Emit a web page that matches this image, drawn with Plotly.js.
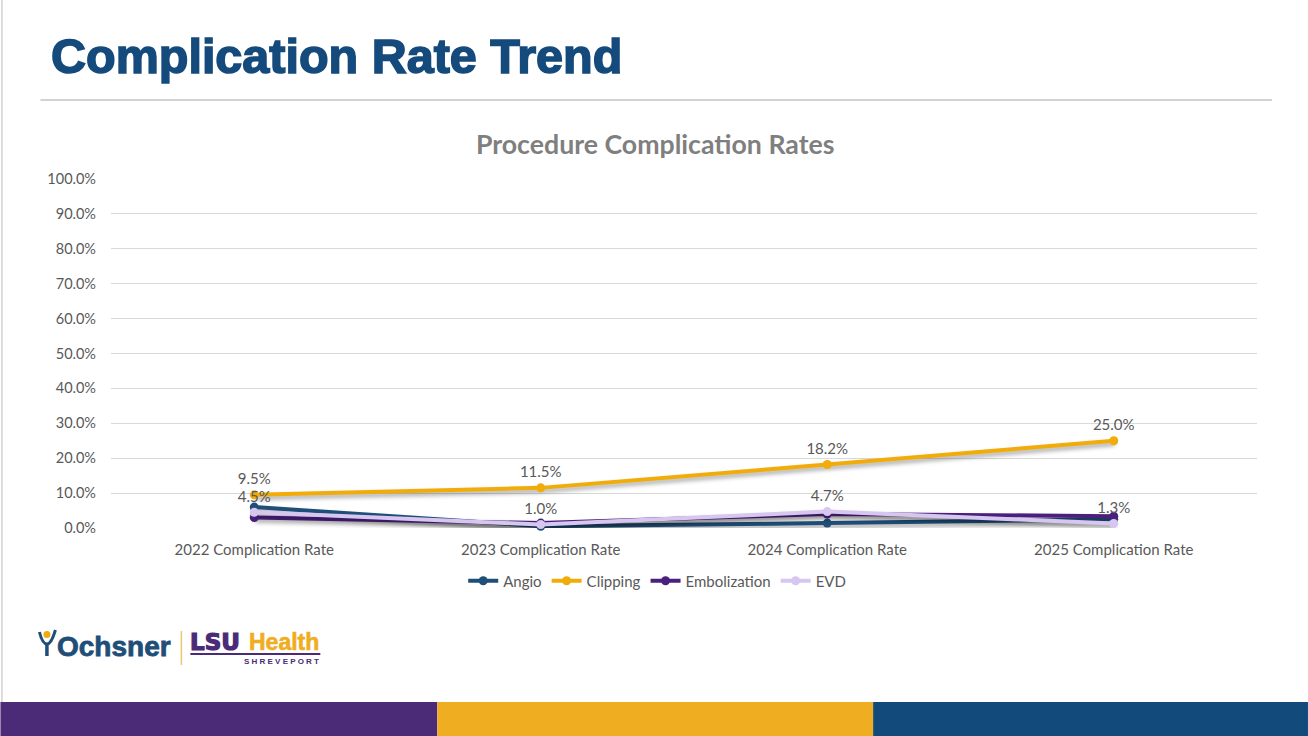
<!DOCTYPE html>
<html>
<head>
<meta charset="utf-8">
<script src="https://cdn.plot.ly/plotly-3.0.1.min.js"></script>
<style>
  html, body { margin: 0; padding: 0; background: #ffffff; }
  #chart { width: 1308px; height: 736px; }
  .scatterlayer .trace path.js-line { filter: drop-shadow(1px 3px 2px rgba(0,0,0,0.35)); }
  .annotation[data-index="0"] text { stroke: #154A7C; stroke-width: 1.6px; }
  .annotation[data-index="1"] text { stroke: #1F4E79; stroke-width: 0.8px; }
  .annotation[data-index="2"] text { stroke: #4B2A77; stroke-width: 1.2px; }
  .annotation[data-index="3"] text { stroke: #EFAE22; stroke-width: 0.6px; }
</style>
</head>
<body>
<div id="chart"></div>
<script>
// ---- data ----
const categories = ["2022 Complication Rate", "2023 Complication Rate", "2024 Complication Rate", "2025 Complication Rate"];
const seriesNames = ["Angio", "Clipping", "Embolization", "EVD"];
const angio = [6.0, 0.5, 1.4, 2.5];
const clipping = [9.5, 11.5, 18.2, 25.0];
const embolization = [3.0, 1.4, 4.0, 3.4];
const evd = [4.5, 1.0, 4.7, 1.3];
const yTicks = [0, 10, 20, 30, 40, 50, 60, 70, 80, 90, 100];

const colors = {
  Angio: "#1F4E79",
  Clipping: "#F2AC0A",
  Embolization: "#4A1F7E",
  EVD: "#D7C6EF"
};

// ---- layout geometry (pixels) ----
const W = 1308, H = 736;
const plotL = 110.6, plotR = 1257, plotT = 179, plotB = 528;
const pw = plotR - plotL, ph = plotB - plotT;
const px = x => (x - plotL) / pw;
const py = y => (plotB - y) / ph;

const FONT = "Lato, Carlito, sans-serif";

function series(name, vals, labelled) {
  return {
    type: "scatter",
    mode: labelled ? "lines+markers+text" : "lines+markers",
    name: name,
    x: categories,
    y: vals,
    text: labelled ? vals.map(v => v.toFixed(1) + "%") : undefined,
    textposition: "top center",
    textfont: { family: FONT, size: 15, color: "#595959" },
    line: { color: colors[name], width: 4 },
    marker: { color: colors[name], size: 9 },
    cliponaxis: false,
    hoverinfo: "x+y+name"
  };
}

const traces = [
  series("Angio", angio, false),
  series("Clipping", clipping, true),
  series("Embolization", embolization, false),
  series("EVD", evd, true)
];

const shapes = [
  // heading rule
  { type: "line", xref: "paper", yref: "paper", x0: px(40), x1: px(1272), y0: py(100), y1: py(100),
    line: { color: "#a6a6a6", width: 1 } },
  // left border
  { type: "line", xref: "paper", yref: "paper", x0: px(1.5), x1: px(1.5), y0: py(0), y1: py(702),
    line: { color: "#d0d0d0", width: 1.5 } },
  // bottom colour bars
  { type: "rect", xref: "paper", yref: "paper", x0: px(0), x1: px(437), y0: py(702), y1: py(736),
    fillcolor: "#4B2A77", line: { width: 0 } },
  { type: "rect", xref: "paper", yref: "paper", x0: px(437), x1: px(873), y0: py(702), y1: py(736),
    fillcolor: "#EFAE22", line: { width: 0 } },
  { type: "rect", xref: "paper", yref: "paper", x0: px(873), x1: px(1308), y0: py(702), y1: py(736),
    fillcolor: "#134A7C", line: { width: 0 } },
  // logo divider
  { type: "line", xref: "paper", yref: "paper", x0: px(181), x1: px(181), y0: py(631), y1: py(665),
    line: { color: "#EBC870", width: 1.5 } },
  // LSU underline
  { type: "line", xref: "paper", yref: "paper", x0: px(190), x1: px(320), y0: py(654), y1: py(654),
    line: { color: "#4B2A77", width: 2 } },
  // Ochsner icon: head
  { type: "circle", xref: "paper", yref: "paper", x0: px(43), x1: px(50), y0: py(631), y1: py(638),
    fillcolor: "#F2AC0A", line: { width: 0 } },
  // Ochsner icon: arms / body
  { type: "path", xref: "paper", yref: "paper",
    path: "M " + px(39) + "," + py(632) + " Q " + px(42) + "," + py(644) + " " + px(46.5) + "," + py(644) +
          " Q " + px(51) + "," + py(644) + " " + px(55) + "," + py(630),
    line: { color: "#1F4E79", width: 3 } },
  { type: "line", xref: "paper", yref: "paper", x0: px(46.5), x1: px(46.5), y0: py(644), y1: py(656),
    line: { color: "#1F4E79", width: 3.5 } }
];

const annotations = [
  { text: "<b>Complication Rate Trend</b>", xref: "paper", yref: "paper", x: px(49), y: py(56),
    xanchor: "left", yanchor: "middle", showarrow: false,
    font: { family: "Liberation Sans, Arial, sans-serif", size: 48.5, color: "#154A7C" } },
  { text: "<b>Ochsner</b>", xref: "paper", yref: "paper", x: px(55), y: py(646),
    xanchor: "left", yanchor: "middle", showarrow: false,
    font: { family: "Liberation Sans, Arial, sans-serif", size: 28, color: "#1F4E79" } },
  { text: "<b>LSU</b>", xref: "paper", yref: "paper", x: px(188), y: py(642),
    xanchor: "left", yanchor: "middle", showarrow: false,
    font: { family: "DejaVu Sans, sans-serif", size: 23, color: "#4B2A77" } },
  { text: "<b>Health</b>", xref: "paper", yref: "paper", x: px(247), y: py(642),
    xanchor: "left", yanchor: "middle", showarrow: false,
    font: { family: "Liberation Sans, Arial, sans-serif", size: 23, color: "#EFAE22" } },
  { text: "<b>S H R E V E P O R T</b>", xref: "paper", yref: "paper", x: px(321), y: py(661),
    xanchor: "right", yanchor: "middle", showarrow: false,
    font: { family: "Liberation Sans, Arial, sans-serif", size: 8, color: "#4B2A77" } }
];

const layout = {
  width: W, height: H,
  margin: { l: plotL, r: W - plotR, t: plotT, b: H - plotB, pad: 0 },
  paper_bgcolor: "#ffffff",
  plot_bgcolor: "#ffffff",
  title: {
    text: "<b>Procedure Complication Rates</b>",
    font: { family: FONT, size: 26.7, color: "#7F7F7F" },
    x: px(655), xanchor: "center", xref: "paper",
    y: 1 - 145 / H, yanchor: "middle", yref: "container"
  },
  xaxis: {
    type: "category",
    range: [-0.5, 3.5],
    showgrid: false,
    showline: false,
    zeroline: false,
    ticks: "",
    tickfont: { family: FONT, size: 15, color: "#595959" },
    ticklabelstandoff: 11,
    fixedrange: true
  },
  yaxis: {
    range: [0, 100],
    tickvals: yTicks,
    ticktext: yTicks.map(v => v.toFixed(1) + "%"),
    showgrid: true,
    gridcolor: "#D9D9D9",
    gridwidth: 1,
    zeroline: false,
    showline: false,
    ticks: "",
    ticklabelstandoff: 14,
    tickfont: { family: FONT, size: 14.5, color: "#595959" },
    fixedrange: true
  },
  showlegend: true,
  legend: {
    orientation: "h",
    x: px(657), xanchor: "center",
    y: py(581), yanchor: "middle",
    font: { family: FONT, size: 15, color: "#595959" },
    itemwidth: 30,
    tracegroupgap: 0,
    bgcolor: "rgba(0,0,0,0)"
  },
  shapes: shapes,
  annotations: annotations
};

Plotly.newPlot("chart", traces, layout, { displayModeBar: false, staticPlot: false });
</script>
</body>
</html>
